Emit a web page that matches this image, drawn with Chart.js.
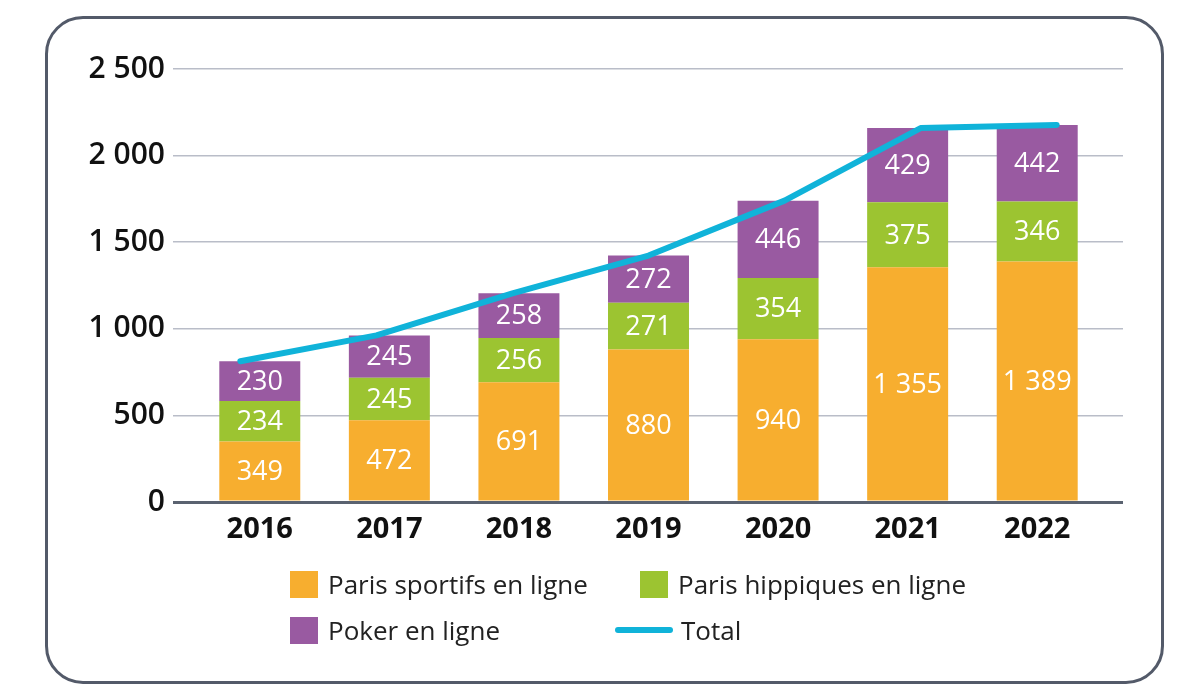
<!DOCTYPE html>
<html>
<head>
<meta charset="utf-8">
<script src="https://cdn.jsdelivr.net/npm/chart.js@4.4.1/dist/chart.umd.min.js"></script>
<style>
  html, body { margin:0; padding:0; background:#fff; width:1200px; height:700px; overflow:hidden; font-family:"Open Sans", sans-serif; }
  #frame { position:absolute; left:45px; top:16px; width:1119px; height:668px; border:3px solid #535a69; border-radius:38px; box-sizing:border-box; }
  #wrap { position:absolute; left:0; top:0; width:1200px; height:700px; }
  .lg { position:absolute; display:flex; align-items:center; font-size:26px; color:#222; white-space:nowrap; height:28px; }
  .sw { width:28px; height:27px; margin-right:10px; }
  .ln { width:58px; height:6px; border-radius:3px; margin-right:8px; }
</style>
</head>
<body>
<div id="frame"></div>
<div id="wrap"><canvas id="c" width="1200" height="700"></canvas></div>
<div id="legend"></div>
<script>
const categories = ['2016', '2017', '2018', '2019', '2020', '2021', '2022'];
const parisSportifs = [349, 472, 691, 880, 940, 1355, 1389];
const parisHippiques = [234, 245, 256, 271, 354, 375, 346];
const poker = [230, 245, 258, 272, 446, 429, 442];
const totals = [813, 962, 1205, 1423, 1740, 2159, 2177];
const yTickValues = [0, 500, 1000, 1500, 2000, 2500];
const seriesNames = ['Paris sportifs en ligne', 'Paris hippiques en ligne', 'Poker en ligne', 'Total'];

const fmt = v => String(v).replace(/\B(?=(\d{3})+(?!\d))/g, ' ');
const GRID = '#b9bdc8';
const AXIS = '#5a6270';

const labelPlugin = {
  id: 'segLabels',
  afterDatasetsDraw(chart) {
    const ctx = chart.ctx;
    ctx.save();
    ctx.font = '500 27px "Open Sans"';
    ctx.fillStyle = '#ffffff';
    ctx.textAlign = 'center';
    ctx.textBaseline = 'middle';
    chart.data.datasets.forEach((ds, di) => {
      if (ds.type === 'line') return;
      const meta = chart.getDatasetMeta(di);
      meta.data.forEach((el, i) => {
        const y = (el.y + el.base) / 2;
        ctx.fillText(fmt(ds.data[i]), el.x, y + 1);
      });
    });
    ctx.restore();
  }
};

const gridColor = c => (c.tick && c.tick.value === 0) ? AXIS : GRID;
const gridWidth = c => (c.tick && c.tick.value === 0) ? 3 : 1.5;

const chart = new Chart(document.getElementById('c'), {
  data: {
    labels: categories,
    datasets: [
      { type: 'line', label: seriesNames[3], data: totals.map((v, i) => ({ x: i, y: v })),
        xAxisID: 'x2', yAxisID: 'y', borderColor: '#10b3d9', borderWidth: 6,
        borderCapStyle: 'round', borderJoinStyle: 'round', pointRadius: 0, tension: 0, fill: false, order: 0 },
      { type: 'bar', label: seriesNames[0], data: parisSportifs, backgroundColor: '#f7ae2f', stack: 's', grouped: false, xAxisID: 'x', yAxisID: 'y', order: 1 },
      { type: 'bar', label: seriesNames[1], data: parisHippiques, backgroundColor: '#9cc431', stack: 's', grouped: false, xAxisID: 'x', yAxisID: 'y', order: 1 },
      { type: 'bar', label: seriesNames[2], data: poker, backgroundColor: '#995aa1', stack: 's', grouped: false, xAxisID: 'x', yAxisID: 'y', order: 1 }
    ]
  },
  options: {
    responsive: false,
    animation: false,
    devicePixelRatio: 1,
    layout: { padding: { left: 0, right: 77, top: 69, bottom: 148 } },
    datasets: { bar: { barPercentage: 0.625, categoryPercentage: 1 } },
    plugins: { legend: { display: false }, tooltip: { enabled: false } },
    scales: {
      x: {
        type: 'category', stacked: true, offset: true,
        grid: { display: false }, border: { display: false },
        ticks: { color: '#111', font: { family: 'Open Sans', size: 29, weight: '700' }, padding: 2 },
        afterFit(s) { s.height = 50; }
      },
      x2: { type: 'linear', display: false, offset: false, min: -1/3, max: 6 + 1/3 },
      y: {
        stacked: true, min: 0, max: 2500,
        afterBuildTicks(s) { s.ticks = yTickValues.map(v => ({ value: v })); },
        grid: { color: gridColor, lineWidth: gridWidth, tickColor: gridColor, tickLength: 22, drawTicks: true },
        border: { display: false },
        ticks: { color: '#111', font: { family: 'Open Sans', size: 30, weight: '600' }, padding: 8, callback: v => fmt(v) },
        afterFit(s) { s.width = 195; }
      },
      y2: {
        position: 'right', min: 0, max: 2500,
        afterBuildTicks(s) { s.ticks = yTickValues.map(v => ({ value: v })); },
        grid: { drawOnChartArea: false, color: gridColor, lineWidth: gridWidth, tickColor: gridColor, tickLength: 21 },
        border: { display: false },
        ticks: { display: false },
        afterFit(s) { s.width = 21; }
      }
    }
  },
  plugins: [labelPlugin]
});

// HTML legend from chart datasets
const legendPos = [[290, 570], [640, 570], [290, 616], [615, 616]];
const legendOrder = [1, 2, 3, 0];
const legend = document.getElementById('legend');
legendOrder.forEach((di, k) => {
  const ds = chart.data.datasets[di];
  const item = document.createElement('div');
  item.className = 'lg';
  item.style.left = legendPos[k][0] + 'px';
  item.style.top = legendPos[k][1] + 'px';
  const mark = document.createElement('span');
  if (ds.type === 'line') { mark.className = 'ln'; mark.style.background = ds.borderColor; }
  else { mark.className = 'sw'; mark.style.background = ds.backgroundColor; }
  const txt = document.createElement('span');
  txt.textContent = ds.label;
  item.appendChild(mark); item.appendChild(txt);
  legend.appendChild(item);
});
</script>
</body>
</html>
